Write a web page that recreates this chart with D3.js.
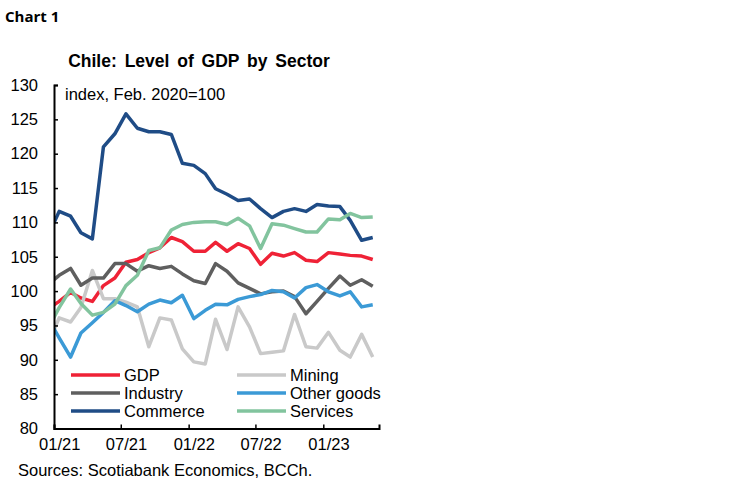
<!DOCTYPE html>
<html>
<head>
<meta charset="utf-8">
<script src="https://cdn.jsdelivr.net/npm/d3@7"></script>
<style>
  body { margin: 0; background: #fff; }
  svg { display: block; }
</style>
</head>
<body>
<svg id="chart" width="748" height="483"></svg>
<script>
// monthly data, Dec 2020 .. May 2023 (first point sits left of the axis and is clipped)
const months = ["2020-12",
  "2021-01","2021-02","2021-03","2021-04","2021-05","2021-06","2021-07","2021-08","2021-09","2021-10","2021-11","2021-12",
  "2022-01","2022-02","2022-03","2022-04","2022-05","2022-06","2022-07","2022-08","2022-09","2022-10","2022-11","2022-12",
  "2023-01","2023-02","2023-03","2023-04","2023-05"];

const gdp        = [97.4, 98.5, 99.8, 99.0, 98.5, 100.8, 101.9, 104.2, 104.6, 105.6, 106.3, 107.8, 107.2, 105.8, 105.8, 107.1, 105.8, 106.9, 106.2, 103.9, 105.5, 105.1, 105.6, 104.5, 104.3, 105.6, 105.4, 105.2, 105.1, 104.6];
const mining     = [92.2, 96.1, 95.5, 97.6, 103.0, 98.9, 98.9, 98.4, 97.7, 91.9, 96.1, 95.8, 91.6, 89.7, 89.4, 95.9, 91.5, 97.7, 94.8, 90.9, 91.1, 91.3, 96.6, 91.9, 91.7, 94.0, 91.4, 90.4, 93.7, 90.4];
const industry   = [100.9, 102.3, 103.3, 100.85, 101.9, 101.9, 104.0, 104.0, 102.9, 103.7, 103.3, 103.6, 102.5, 101.5, 101.1, 104.0, 102.9, 101.2, 100.4, 99.6, 99.9, 100.0, 99.2, 96.7, 98.5, 100.4, 102.2, 100.85, 101.65, 100.7];
const otherGoods = [96.1, 93.2, 90.4, 93.9, 95.4, 96.9, 98.6, 97.9, 97.0, 98.1, 98.7, 98.3, 99.4, 96.0, 97.2, 98.1, 98.0, 98.8, 99.2, 99.5, 100.1, 99.9, 99.0, 100.5, 100.95, 99.9, 99.3, 99.9, 97.7, 98.0];
const commerce   = [108.0, 111.6, 110.9, 108.5, 107.6, 121.0, 122.9, 125.8, 123.7, 123.2, 123.2, 122.8, 118.6, 118.3, 117.1, 114.9, 114.1, 113.2, 113.4, 112.0, 110.7, 111.6, 112.0, 111.6, 112.6, 112.4, 112.3, 110.3, 107.4, 107.8];
const services   = [94.5, 97.6, 100.3, 98.2, 96.5, 96.9, 98.1, 100.8, 102.3, 105.9, 106.3, 108.9, 109.7, 110.0, 110.1, 110.1, 109.7, 110.6, 109.5, 106.2, 109.8, 109.6, 109.1, 108.6, 108.6, 110.5, 110.4, 111.3, 110.7, 110.8];

const seriesNames = ["GDP", "Mining", "Industry", "Other goods", "Commerce", "Services"];
const seriesValues = [gdp, mining, industry, otherGoods, commerce, services];
const seriesColors = ["#ef2236", "#c9c9c9", "#5f5f5f", "#3b9ad6", "#1f4c86", "#82c49e"];

const yTicks = [80, 85, 90, 95, 100, 105, 110, 115, 120, 125, 130];
const xTicks = ["2021-01", "2021-07", "2022-01", "2022-07", "2023-01"];

const parseMonth = d3.timeParse("%Y-%m");
const midMonth = s => d3.timeDay.offset(parseMonth(s), 14);

const svg = d3.select("#chart");
const font = "Liberation Sans, Arial, sans-serif";

const x = d3.scaleTime()
  .domain([parseMonth("2021-01"), parseMonth("2023-06")])
  .range([54, 379]);

const y = d3.scaleLinear()
  .domain([80, 130])
  .range([428.5, 85]);

// headings
svg.append("text")
  .attr("x", 5).attr("y", 22)
  .attr("font-family", "Open Sans, sans-serif")
  .attr("font-weight", "bold")
  .attr("font-size", "15px")
  .attr("fill", "#000")
  .text("Chart 1");

svg.append("text")
  .attr("x", 199).attr("y", 67)
  .attr("text-anchor", "middle")
  .attr("font-family", font)
  .attr("font-weight", "bold")
  .attr("font-size", "17.5px")
  .attr("word-spacing", "3px")
  .attr("fill", "#000")
  .text("Chile: Level of GDP by Sector");

svg.append("text")
  .attr("x", 65).attr("y", 100)
  .attr("font-family", font)
  .attr("font-size", "16.5px")
  .attr("fill", "#000")
  .text("index, Feb. 2020=100");

// lines
svg.append("clipPath").attr("id", "plotClip")
  .append("rect")
  .attr("x", 54).attr("y", 60)
  .attr("width", 325).attr("height", 380);

const line = d3.line()
  .x((d, i) => x(midMonth(months[i])))
  .y(d => y(d));

svg.append("g")
  .attr("clip-path", "url(#plotClip)")
  .selectAll("path")
  .data(seriesValues)
  .join("path")
  .attr("d", line)
  .attr("fill", "none")
  .attr("stroke", (d, i) => seriesColors[i])
  .attr("stroke-width", 3.5)
  .attr("stroke-linejoin", "round");

// y axis
const yAxis = svg.append("g")
  .attr("transform", "translate(54,0)")
  .call(d3.axisLeft(y).tickValues(yTicks).tickSize(-4).tickPadding(16).tickFormat(d3.format("d")));
yAxis.select(".domain").attr("stroke", "#000").attr("stroke-width", 2);
yAxis.selectAll(".tick line").attr("stroke", "#000").attr("stroke-width", 1.5);
yAxis.selectAll("text")
  .attr("font-family", font)
  .attr("font-size", "16.5px")
  .attr("fill", "#000");

// x axis
const labelShift = x(midMonth("2021-01")) - x(parseMonth("2021-01"));
const xAxis = svg.append("g")
  .attr("transform", "translate(0,428.5)")
  .call(d3.axisBottom(x).tickValues(xTicks.map(parseMonth)).tickSize(-4).tickPadding(10)
    .tickFormat(d3.timeFormat("%m/%y")));
xAxis.select(".domain").attr("stroke", "#000").attr("stroke-width", 2);
xAxis.selectAll(".tick line").attr("stroke", "#000").attr("stroke-width", 1.5);
xAxis.selectAll("text")
  .attr("dx", labelShift)
  .attr("font-family", font)
  .attr("font-size", "16.5px")
  .attr("fill", "#000");

// legend, two columns
const legend = svg.append("g").selectAll("g")
  .data(seriesNames)
  .join("g")
  .attr("transform", (d, i) => `translate(${i % 2 ? 237 : 71}, ${375 + Math.floor(i / 2) * 18})`);

legend.append("line")
  .attr("x1", 0).attr("x2", 49)
  .attr("stroke", (d, i) => seriesColors[i])
  .attr("stroke-width", 3.5);

legend.append("text")
  .attr("x", 53)
  .attr("dy", "0.36em")
  .attr("font-family", font)
  .attr("font-size", "16.5px")
  .attr("fill", "#000")
  .text(d => d);

svg.append("text")
  .attr("x", 18).attr("y", 476)
  .attr("font-family", font)
  .attr("font-size", "16.5px")
  .attr("fill", "#000")
  .text("Sources: Scotiabank Economics, BCCh.");
</script>
</body>
</html>
